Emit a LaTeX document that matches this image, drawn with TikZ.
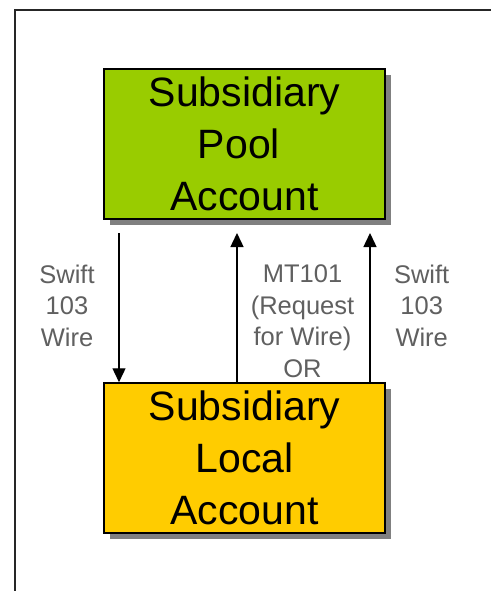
\documentclass[tikz,border=0pt]{standalone}
\usepackage{fontspec}
\setmainfont{Liberation Sans}
\usetikzlibrary{arrows.meta,shadows,calc}
\definecolor{poolgreen}{RGB}{153,204,0}
\definecolor{localyellow}{RGB}{255,204,0}
\definecolor{shadowgray}{RGB}{128,128,128}
\definecolor{labelgray}{RGB}{96,96,96}
\tikzset{
  acctbox/.style={draw=black, line width=1.5pt, minimum width=281pt, minimum height=150pt,
    inner sep=0pt, align=center, font={\fontsize{41pt}{51.7pt}\selectfont},
    drop shadow={shadow xshift=6pt, shadow yshift=-6pt, fill=shadowgray, draw=none, opacity=1}},
  msglabel/.style={inner sep=0pt, align=center, text=labelgray, font={\fontsize{25.5pt}{31.5pt}\selectfont}},
  arr/.style={line width=1.4pt, -{Triangle[length=14pt,width=13pt]}},
  frameline/.style={line width=2pt, draw=black!85}
}
\begin{document}
\begin{tikzpicture}[x=1pt,y=-1pt]
\useasboundingbox (0,0) rectangle (491,591);
\fill[white] (0,0) rectangle (491,591);
\coordinate (fb) at (15,591);
\coordinate (fc) at (15,10);
\coordinate (fr) at (491,10);
\draw[frameline] (fb) -- (fc) -- (fr);
\node[acctbox, fill=poolgreen] (pool) at (244.5,144) {Subsidiary\\Pool\kern11pt\\Account};
\node[acctbox, fill=localyellow] (local) at (244.5,458) {Subsidiary\\Local\\Account};
\coordinate (p1) at (119,233);
\coordinate (p2) at (237,233);
\coordinate (p3) at (370,233);
\draw[arr] (p1) -- (p1 |- local.north);
\draw[arr] (p2 |- local.north) -- (p2);
\draw[arr] (p3 |- local.north) -- (p3);
\node[msglabel] (l1) at (67,305.7) {Swift\\103\\Wire};
\node[msglabel] (l2) at (302.5,321) {MT101\\(Request\\for Wire)\\OR};
\node[msglabel] (l3) at (421.7,305.7) {Swift\\103\\Wire};
\end{tikzpicture}
\end{document}
